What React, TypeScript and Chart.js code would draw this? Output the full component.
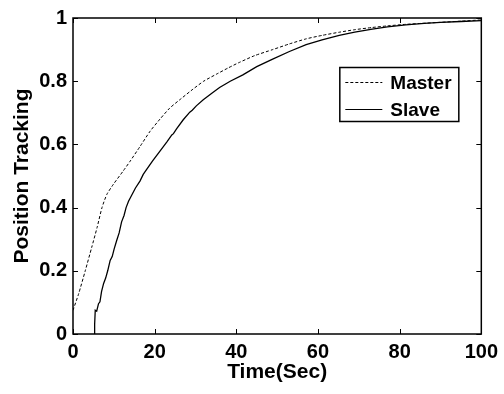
import React, { useEffect, useRef } from "react";
import { Chart, registerables } from "chart.js";

Chart.register(...registerables);

const masterX = [0, 1.4, 3, 4.6, 5.9, 7.1, 8.3, 9.9, 12.3, 14, 16.5, 18.9, 21.3, 23.7, 26.5, 29.4, 32, 35.1, 38, 40.5, 44.5, 48.9, 53, 57.1, 61, 65.2, 69, 73.3, 77, 81.5, 85.5, 89.6, 95, 100];
const masterY = [0.075, 0.128, 0.2, 0.275, 0.337, 0.4, 0.442, 0.474, 0.516, 0.547, 0.595, 0.642, 0.68, 0.715, 0.745, 0.775, 0.8, 0.822, 0.842, 0.858, 0.881, 0.9, 0.918, 0.934, 0.945, 0.955, 0.963, 0.97, 0.975, 0.98, 0.983, 0.986, 0.99, 0.994];

const slaveX = [5.2, 5.3, 5.45, 5.8, 6.25, 6.6, 7.0, 7.5, 8.0, 8.5, 9.1, 9.6, 10.1, 10.7, 11.3, 11.9, 12.5, 13.0, 13.6, 14.4, 15.3, 16.4, 17.2, 18.0, 19.5, 21.3, 23.0, 24.2, 24.6, 25.4, 27.0, 28.6, 29.2, 30.2, 31.9, 34, 35.9, 38.5, 41.6, 45, 48.9, 53, 57.1, 61, 65.2, 69, 73.3, 77, 81.5, 86, 90, 95, 100];
const slaveY = [0, 0.03, 0.075, 0.072, 0.096, 0.102, 0.135, 0.16, 0.177, 0.2, 0.233, 0.245, 0.27, 0.296, 0.32, 0.355, 0.375, 0.4, 0.42, 0.44, 0.462, 0.484, 0.505, 0.52, 0.548, 0.579, 0.608, 0.63, 0.634, 0.65, 0.678, 0.702, 0.708, 0.722, 0.741, 0.762, 0.78, 0.8, 0.82, 0.846, 0.87, 0.894, 0.916, 0.931, 0.945, 0.955, 0.965, 0.972, 0.978, 0.983, 0.986, 0.989, 0.992];

const seriesNames = ["Master", "Slave"];
const xTicks = [0, 20, 40, 60, 80, 100];
const yTicks = [0, 0.2, 0.4, 0.6, 0.8, 1];

const FONT = "'Liberation Sans', Arial, sans-serif";

const framePlugin = {
  id: "frame",
  afterDraw(chart: any) {
    const { ctx, chartArea } = chart;
    const { left, right, top, bottom } = chartArea;
    const xs = chart.scales.x;
    const ys = chart.scales.y;
    ctx.save();
    ctx.strokeStyle = "#000";
    ctx.lineWidth = 1.5;
    ctx.strokeRect(left, top, right - left, bottom - top);
    ctx.lineWidth = 1;
    const tl = 5;
    ctx.beginPath();
    xTicks.forEach((v) => {
      const px = Math.round(xs.getPixelForValue(v)) + 0.5;
      ctx.moveTo(px, bottom);
      ctx.lineTo(px, bottom - tl);
      ctx.moveTo(px, top);
      ctx.lineTo(px, top + tl);
    });
    yTicks.forEach((v) => {
      const py = Math.round(ys.getPixelForValue(v)) + 0.5;
      ctx.moveTo(left, py);
      ctx.lineTo(left + tl, py);
      ctx.moveTo(right, py);
      ctx.lineTo(right - tl, py);
    });
    ctx.stroke();

    // legend
    const bx = right - 142;
    const by = top + 49;
    const bw = 119;
    const bh = 54;
    ctx.fillStyle = "#fff";
    ctx.fillRect(bx, by, bw, bh);
    ctx.lineWidth = 1.5;
    ctx.strokeRect(bx + 0.5, by + 0.5, bw, bh);
    ctx.lineWidth = 1;
    const rows = [by + 15, by + 42];
    chart.data.datasets.forEach((ds: any, i: number) => {
      const y = Math.round(rows[i]) + 0.5;
      ctx.setLineDash(ds.borderDash || []);
      ctx.strokeStyle = ds.borderColor;
      ctx.beginPath();
      ctx.moveTo(bx + 6, y);
      ctx.lineTo(bx + 43, y);
      ctx.stroke();
      ctx.setLineDash([]);
      ctx.fillStyle = "#000";
      ctx.font = `bold 19px ${FONT}`;
      ctx.textBaseline = "middle";
      ctx.textAlign = "left";
      ctx.fillText(ds.label, bx + 51, y + 1);
    });
    ctx.restore();
  },
};

export default function App() {
  const ref = useRef<HTMLCanvasElement>(null);
  useEffect(() => {
    if (!ref.current) return;
    const chart = new Chart(ref.current, {
      type: "line",
      data: {
        datasets: [
          {
            label: seriesNames[0],
            data: masterX.map((x, i) => ({ x, y: masterY[i] })),
            borderColor: "#000",
            borderWidth: 1,
            borderDash: [3, 2],
            pointRadius: 0,
            tension: 0.2,
            fill: false,
          },
          {
            label: seriesNames[1],
            data: slaveX.map((x, i) => ({ x, y: slaveY[i] })),
            borderColor: "#000",
            borderWidth: 1.3,
            pointRadius: 0,
            tension: 0,
            fill: false,
          },
        ],
      },
      options: {
        responsive: false,
        animation: false,
        layout: { padding: { top: 16, right: 21, left: 0, bottom: 0 } },
        plugins: { legend: { display: false }, tooltip: { enabled: false } },
        scales: {
          x: {
            type: "linear",
            min: 0,
            max: 100,
            afterFit: (s: any) => {
              s.height = 60;
            },
            afterBuildTicks: (s: any) => {
              s.ticks = xTicks.map((v) => ({ value: v }));
            },
            grid: { display: false, drawTicks: false },
            border: { display: false },
            ticks: {
              padding: 6,
              color: "#000",
              font: { family: FONT, size: 20, weight: "bold" },
              maxRotation: 0,
            },
            title: {
              display: true,
              text: "Time(Sec)",
              color: "#000",
              font: { family: FONT, size: 21, weight: "bold" },
              padding: { top: 0, bottom: 9 },
            },
          },
          y: {
            type: "linear",
            min: 0,
            max: 1,
            afterFit: (s: any) => {
              s.width = 73;
            },
            afterBuildTicks: (s: any) => {
              s.ticks = yTicks.map((v) => ({ value: v }));
            },
            grid: { display: false, drawTicks: false },
            border: { display: false },
            ticks: {
              padding: 6,
              color: "#000",
              font: { family: FONT, size: 20, weight: "bold" },
              callback: (v: any) => String(v),
            },
            title: {
              display: true,
              text: "Position Tracking",
              color: "#000",
              font: { family: FONT, size: 21, weight: "bold" },
              padding: { top: 10, bottom: 0 },
            },
          },
        },
      },
      plugins: [framePlugin],
    });
    return () => chart.destroy();
  }, []);
  return (
    <canvas
      ref={ref}
      width={504}
      height={394}
      style={{ position: "fixed", left: 0, top: 0, width: 504, height: 394, display: "block", background: "#fff" }}
    />
  );
}
